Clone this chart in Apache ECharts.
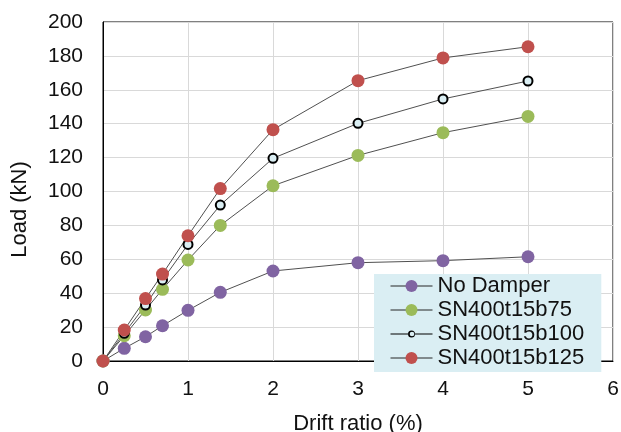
<!DOCTYPE html>
<html>
<head>
<meta charset="utf-8">
<script src="https://cdn.jsdelivr.net/npm/echarts@6/dist/echarts.min.js"></script>
<style>
html,body{margin:0;padding:0;background:#fff;}
#chart{width:621px;height:432px;}
</style>
</head>
<body>
<div id="chart"></div>
<script>
var driftRatio = [0, 0.25, 0.5, 0.7, 1, 1.38, 2, 3, 4, 5];
var seriesNames = ['No Damper', 'SN400t15b75', 'SN400t15b100', 'SN400t15b125'];
var noDamper = [0, 7.5, 14.3, 20.8, 29.9, 40.5, 53.1, 58.0, 59.2, 61.5];
var sn75 = [0, 14.9, 30.1, 42.3, 59.6, 80.0, 103.4, 121.3, 134.7, 144.3];
var sn100 = [0, 16.3, 33.0, 47.8, 68.8, 92.0, 119.6, 140.2, 154.6, 165.2];
var sn125 = [0, 18.3, 36.8, 51.3, 73.9, 101.7, 136.5, 165.4, 178.8, 185.4];
var xTicks = [0, 1, 2, 3, 4, 5, 6];
var yTicks = [0, 20, 40, 60, 80, 100, 120, 140, 160, 180, 200];

function pairs(ys) {
  return driftRatio.map(function (x, i) { return [x, ys[i]]; });
}

var font = 'Liberation Sans, Arial, sans-serif';
var lineColor = '#505050';

// legend icon for the open-circle series: line with a small ring (42x15 box)
var ringIcon = 'path://M0 0 L0.01 0 L0.01 0.01 Z M41.99 15 L42 15 L42 14.99 Z ' +
  'M0 7 L17.6 7 L17.6 8 L0 8 Z M24.4 7 L42 7 L42 8 L24.4 8 Z ' +
  'M17.5 7.5 A3.5 3.5 0 1 0 24.5 7.5 A3.5 3.5 0 1 0 17.5 7.5 Z ' +
  'M19.2 7.5 A2.3 2.3 0 1 1 23.8 7.5 A2.3 2.3 0 1 1 19.2 7.5 Z';

function mk(name, ys, fill, border, size, bw) {
  return {
    name: name,
    type: 'line',
    data: pairs(ys),
    symbol: 'circle',
    symbolSize: size,
    lineStyle: { color: lineColor, width: 1 },
    itemStyle: { color: fill, borderColor: border, borderWidth: bw },
    emphasis: { disabled: true },
    animation: false
  };
}

var chart = echarts.init(document.getElementById('chart'), null, { renderer: 'canvas' });
chart.setOption({
  animation: false,
  backgroundColor: '#fff',
  grid: {
    left: 103, right: 8, top: 22, bottom: 71,
    outerBoundsMode: 'none',
    containLabel: false,
    show: true, borderColor: '#000', borderWidth: 1, backgroundColor: 'transparent'
  },
  legend: {
    data: [
      { name: seriesNames[0] },
      { name: seriesNames[1] },
      { name: seriesNames[2], icon: ringIcon, itemStyle: { color: '#000', borderWidth: 0 } },
      { name: seriesNames[3] }
    ],
    orient: 'vertical',
    left: 374,
    top: 274,
    backgroundColor: '#daeef3',
    padding: [1, 17, 3, 16],
    itemGap: 2,
    itemWidth: 42,
    itemHeight: 15,
    lineStyle: { color: '#262626', width: 1 },
    textStyle: { fontFamily: font, fontSize: 22, color: '#111' }
  },
  xAxis: {
    type: 'value',
    min: xTicks[0],
    max: xTicks[xTicks.length - 1],
    interval: 1,
    name: 'Drift ratio (%)',
    nameLocation: 'middle',
    nameGap: 52,
    nameTextStyle: { fontFamily: font, fontSize: 22, color: '#111' },
    axisLine: { show: true, lineStyle: { color: '#000', width: 1 } },
    axisTick: { show: false },
    axisLabel: { fontFamily: font, fontSize: 21, color: '#111', margin: 18 },
    splitLine: { show: true, lineStyle: { color: '#d9d9d9', width: 1 } }
  },
  yAxis: {
    type: 'value',
    min: yTicks[0],
    max: yTicks[yTicks.length - 1],
    interval: 20,
    name: 'Load (kN)',
    nameLocation: 'middle',
    nameGap: 72,
    nameRotate: 90,
    nameTextStyle: { fontFamily: font, fontSize: 22, color: '#111', padding: [0, 36, 0, 0] },
    axisLine: { show: true, lineStyle: { color: '#000', width: 1 } },
    axisTick: { show: false },
    axisLabel: { fontFamily: font, fontSize: 21, color: '#111', margin: 20 },
    splitLine: { show: true, lineStyle: { color: '#d9d9d9', width: 1 } }
  },
  series: [
    mk(seriesNames[0], noDamper, '#8064a2', '#8064a2', 13, 0),
    mk(seriesNames[1], sn75, '#9bbb59', '#9bbb59', 13, 0),
    mk(seriesNames[2], sn100, '#daeef3', '#000', 9, 2),
    mk(seriesNames[3], sn125, '#c0504d', '#c0504d', 13, 0)
  ]
});
</script>
</body>
</html>
